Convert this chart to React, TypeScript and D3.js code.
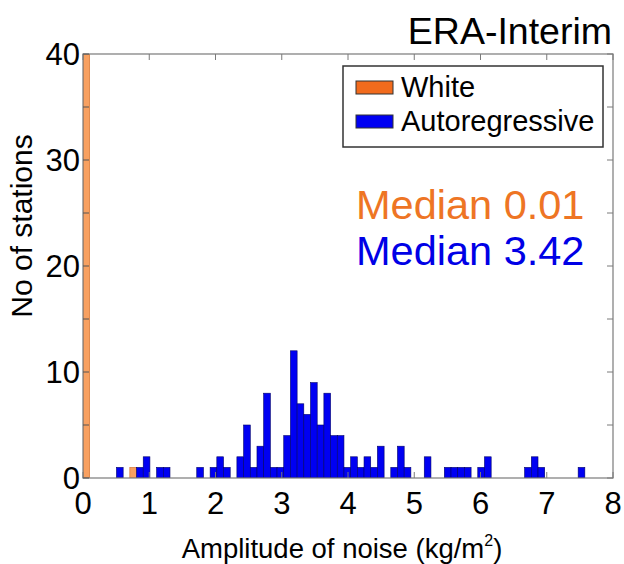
import React from "react";
import * as d3 from "d3";

const BIN_WIDTH = 0.101;
// counts per bin index (bin i covers [i*BIN_WIDTH, (i+1)*BIN_WIDTH))
const whiteCounts: number[] = [119, 0, 0, 0, 0, 0, 0, 1];
const arCounts: number[] = [
  0, 0, 0, 0, 0, 1, 0, 0, 1, 2,
  0, 1, 1, 0, 0, 0, 0, 1, 0, 1,
  2, 1, 0, 2, 5, 1, 3, 8, 1, 1,
  4, 12, 7, 6, 9, 5, 8, 4, 4, 1,
  2, 1, 2, 1, 3, 0, 1, 3, 1, 0,
  0, 2, 0, 0, 1, 1, 1, 1, 0, 1,
  2, 0, 0, 0, 0, 0, 1, 2, 1, 0,
  0, 0, 0, 0, 1,
];
const xTicks = [0, 1, 2, 3, 4, 5, 6, 7, 8];
const yTicks = [0, 10, 20, 30, 40];
const yMinorTicks = [5, 15, 25, 35];
const seriesNames = ["White", "Autoregressive"];
const medianLabels = ["Median 0.01", "Median 3.42"];
const title = "ERA-Interim";

const W = 624;
const H = 564;
const left = 83;
const right = 613;
const top = 54;
const bottom = 478;

export default function App() {
  const x = d3.scaleLinear().domain([0, 8]).range([left, right]);
  const y = d3.scaleLinear().domain([0, 40]).range([bottom, top]);
  const font = "'Liberation Sans', Arial, sans-serif";
  const axisColor = "#7a7a7a";
  const orange = "#F26B1D";
  const whiteFill = "#F8A060";
  const blue = "#0000F2";

  const bars = (counts: number[], fill: string, stroke: string, key: string) =>
    counts.map((c, i) =>
      c > 0 ? (
        <rect
          key={key + i}
          x={x(i * BIN_WIDTH)}
          y={y(Math.min(c, 40))}
          width={x((i + 1) * BIN_WIDTH) - x(i * BIN_WIDTH)}
          height={y(0) - y(Math.min(c, 40))}
          fill={fill}
          stroke={stroke}
          strokeWidth={0.6}
        />
      ) : null
    );

  return (
    <svg width={W} height={H} style={{ position: "absolute", left: 0, top: 0, background: "#fff" }} fontFamily={font}>
      <rect x={0} y={0} width={W} height={H} fill="#fff" />
      <clipPath id="plotclip">
        <rect x={left} y={top} width={right - left} height={bottom - top} />
      </clipPath>
      <g clipPath="url(#plotclip)">
        {bars(whiteCounts, whiteFill, "#d06a25", "w")}
        {bars(arCounts, blue, "#00006a", "a")}
      </g>
      <rect x={left} y={top} width={right - left} height={bottom - top} fill="none" stroke={axisColor} strokeWidth={1.2} />
      {xTicks.map((t) => (
        <g key={"xt" + t}>
          <line x1={x(t)} x2={x(t)} y1={bottom} y2={bottom - 6} stroke={axisColor} strokeWidth={1} />
          <line x1={x(t)} x2={x(t)} y1={top} y2={top + 6} stroke={axisColor} strokeWidth={1} />
          <text x={x(t)} y={514} textAnchor="middle" fontSize={31} fill="#000">
            {t}
          </text>
        </g>
      ))}
      {yTicks.concat(yMinorTicks).map((t) => (
        <g key={"yt" + t}>
          <line x1={left} x2={left + 6} y1={y(t)} y2={y(t)} stroke="#555" strokeWidth={1} />
          <line x1={right} x2={right - 6} y1={y(t)} y2={y(t)} stroke={axisColor} strokeWidth={1} />
        </g>
      ))}
      {yTicks.map((t) => (
        <text key={"yl" + t} x={80} y={y(t) + 11} textAnchor="end" fontSize={31} fill="#000">
          {t}
        </text>
      ))}
      <text x={342} y={558} textAnchor="middle" fontSize={27.5} fill="#000">
        Amplitude of noise (kg/m
        <tspan fontSize={16} dy={-12}>2</tspan>
        <tspan dy={12}>)</tspan>
      </text>
      <text transform="translate(32,226) rotate(-90)" textAnchor="middle" fontSize={30} fill="#000">
        No of stations
      </text>
      <text x={612} y={44} textAnchor="end" fontSize={37.5} fill="#000">
        {title}
      </text>
      <rect x={343} y={66} width={260} height={81} fill="#fff" stroke="#333" strokeWidth={1.5} />
      <rect x={356} y={81} width={37} height={13} fill={orange} stroke="#333" strokeWidth={1} />
      <rect x={356} y={115} width={37} height={13} fill={blue} stroke="#333" strokeWidth={1} />
      <text x={401} y={97} fontSize={29} fill="#000">{seriesNames[0]}</text>
      <text x={401} y={131} fontSize={29} fill="#000">{seriesNames[1]}</text>
      <text x={356} y={219} fontSize={41.5} fill="#EE7524">{medianLabels[0]}</text>
      <text x={356} y={265} fontSize={41.5} fill="#0000E6">{medianLabels[1]}</text>
    </svg>
  );
}
